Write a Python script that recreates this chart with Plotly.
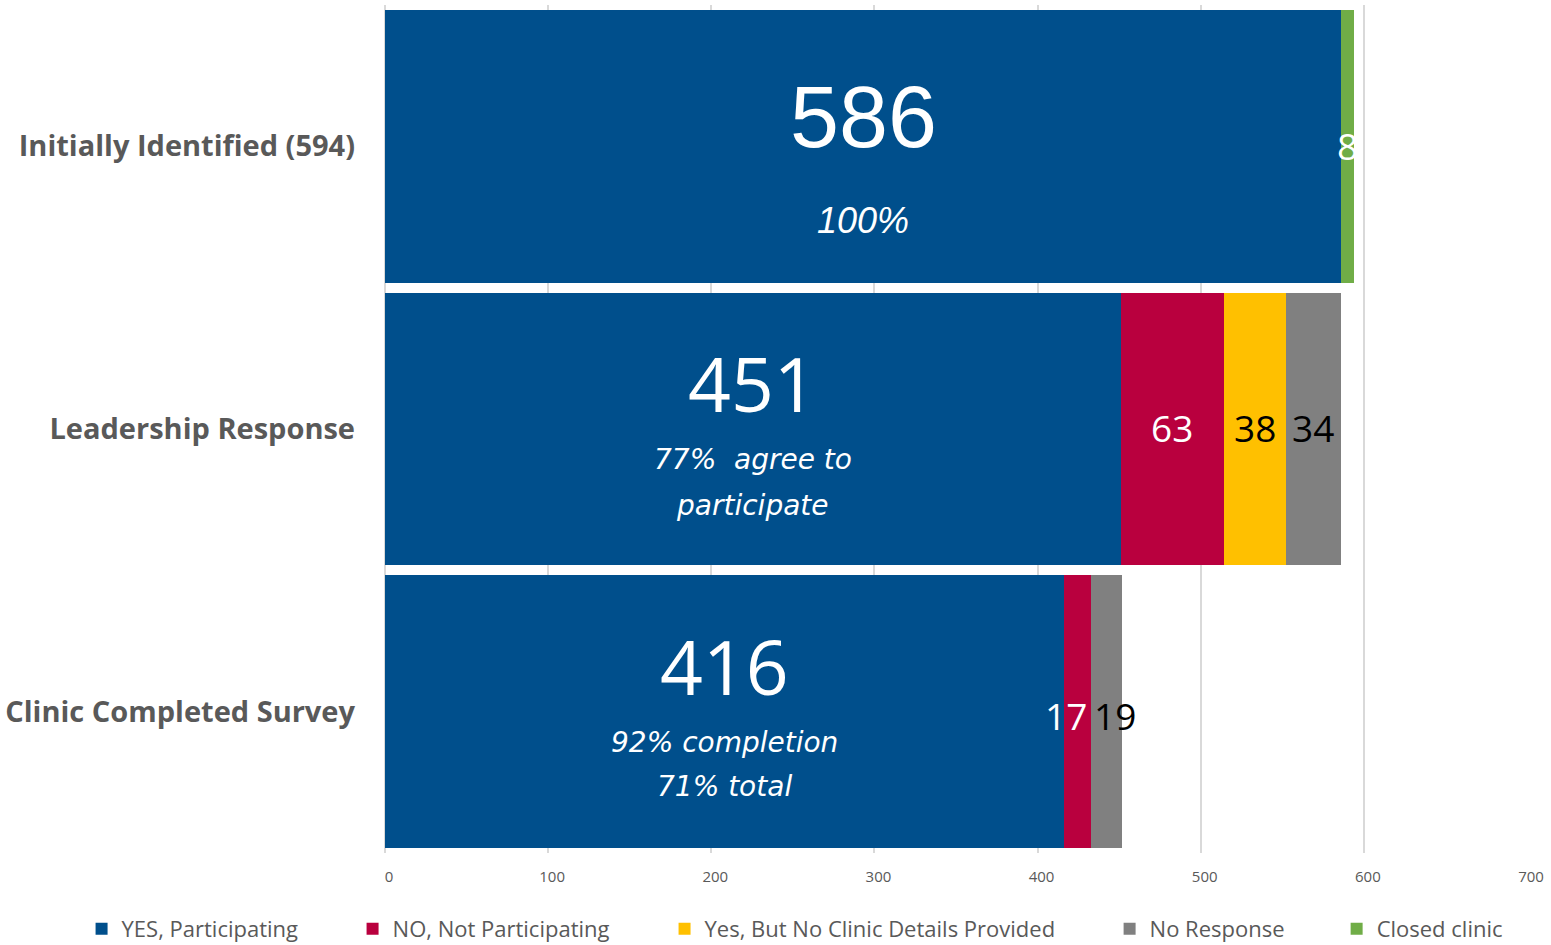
import plotly.graph_objects as go

# ---------------- data ----------------
categories = ["Initially Identified (594)", "Leadership Response", "Clinic Completed Survey"]
series_names = ["YES, Participating", "NO, Not Participating",
                "Yes, But No Clinic Details Provided", "No Response", "Closed clinic"]
yes_vals = [586, 451, 416]
no_vals = [0, 63, 17]
yesbut_vals = [0, 38, 0]
noresp_vals = [0, 34, 19]
closed_vals = [8, 0, 0]
subtitle_lines = [["100%"], ["77%  agree to", "participate"], ["92% completion", "71% total"]]
x_ticks = [0, 100, 200, 300, 400, 500, 600, 700]

# ---------------- style ----------------
colors = ["#004F8C", "#B9003E", "#FFC000", "#808080", "#70AD47"]
seg_text_colors = [None, "white", "black", "black", "white"]
grey = "#595959"
grid = "#D9D9D9"

all_vals = [yes_vals, no_vals, yesbut_vals, noresp_vals, closed_vals]

fig = go.Figure()
legend_x = [-0.2657, -0.0284, 0.2448, 0.6345, 0.8333]
for i, (name, vals) in enumerate(zip(series_names, all_vals)):
    lg = "legend" if i == 0 else f"legend{i+1}"
    fig.add_trace(go.Bar(
        y=categories, x=vals, name=name, orientation="h",
        marker=dict(color=colors[i], line=dict(width=0)),
        legend=lg, hoverinfo="x+name",
    ))

annotations = []
# big numbers + subtitles inside YES bars
big_fonts = [dict(family="Liberation Sans", size=88, color="white"),
             dict(family="Open Sans", size=75, color="white"),
             dict(family="Open Sans", size=75, color="white")]
big_shift = [30, 46.5, 45.5]
sub_fonts = [dict(family="Liberation Sans", size=36, color="white", style="italic"),
             dict(family="DejaVu Sans", size=28, color="white", style="italic"),
             dict(family="DejaVu Sans", size=28, color="white", style="italic")]
sub_shifts = [[-74], [-30.5, -76.5], [-31, -74.5]]
for j, cat in enumerate(categories):
    annotations.append(dict(x=yes_vals[j] / 2, y=cat, xref="x", yref="y", text=str(yes_vals[j]),
                            showarrow=False, font=big_fonts[j], yshift=big_shift[j]))
    for line, ys in zip(subtitle_lines[j], sub_shifts[j]):
        annotations.append(dict(x=yes_vals[j] / 2, y=cat, xref="x", yref="y", text=line,
                                showarrow=False, font=sub_fonts[j], yshift=ys))

# segment labels
label_xshift = {(1, 2): -12, (3, 2): 8}
label_yshift = [1, 2, -4]
for i in range(1, 5):
    for j, cat in enumerate(categories):
        v = all_vals[i][j]
        if v <= 0:
            continue
        base = sum(all_vals[k][j] for k in range(i))
        annotations.append(dict(x=base + v / 2, y=cat, xref="x", yref="y", text=str(v),
                                showarrow=False, xshift=label_xshift.get((i, j), 0),
                                yshift=label_yshift[j],
                                font=dict(family="Open Sans", size=37, color=seg_text_colors[i])))

layout_legends = {}
for i in range(5):
    key = "legend" if i == 0 else f"legend{i+1}"
    layout_legends[key] = dict(orientation="h", x=legend_x[i], xanchor="left",
                               y=-0.0896, yanchor="middle",
                               font=dict(family="Open Sans", size=22, color=grey),
                               bgcolor="rgba(0,0,0,0)", itemclick=False)

fig.update_layout(
    barmode="stack",
    bargap=0.035,
    autosize=False,
    width=1551, height=945,
    margin=dict(l=385, r=24, t=5, b=92, autoexpand=False),
    paper_bgcolor="white", plot_bgcolor="white",
    showlegend=True,
    annotations=annotations,
    xaxis=dict(range=[0, 700], tickvals=x_ticks, ticktext=[str(t) for t in x_ticks],
               showgrid=True, gridcolor=grid, gridwidth=1.5,
               zeroline=True, zerolinecolor=grid, zerolinewidth=1.5,
               showline=False, ticks="", ticklabelstandoff=13, ticklabelshift=4,
               tickfont=dict(family="Open Sans", size=15, color=grey), fixedrange=True),
    yaxis=dict(autorange="reversed", ticks="", showgrid=False, zeroline=False,
               ticklabelstandoff=29,
               tickfont=dict(family="Open Sans", size=29, color=grey, weight="bold"),
               fixedrange=True),
    **layout_legends,
)

fig.write_html("out.html", config={"responsive": False, "displayModeBar": False},
               post_script="document.body.style.margin='0';document.body.style.padding='0';")
